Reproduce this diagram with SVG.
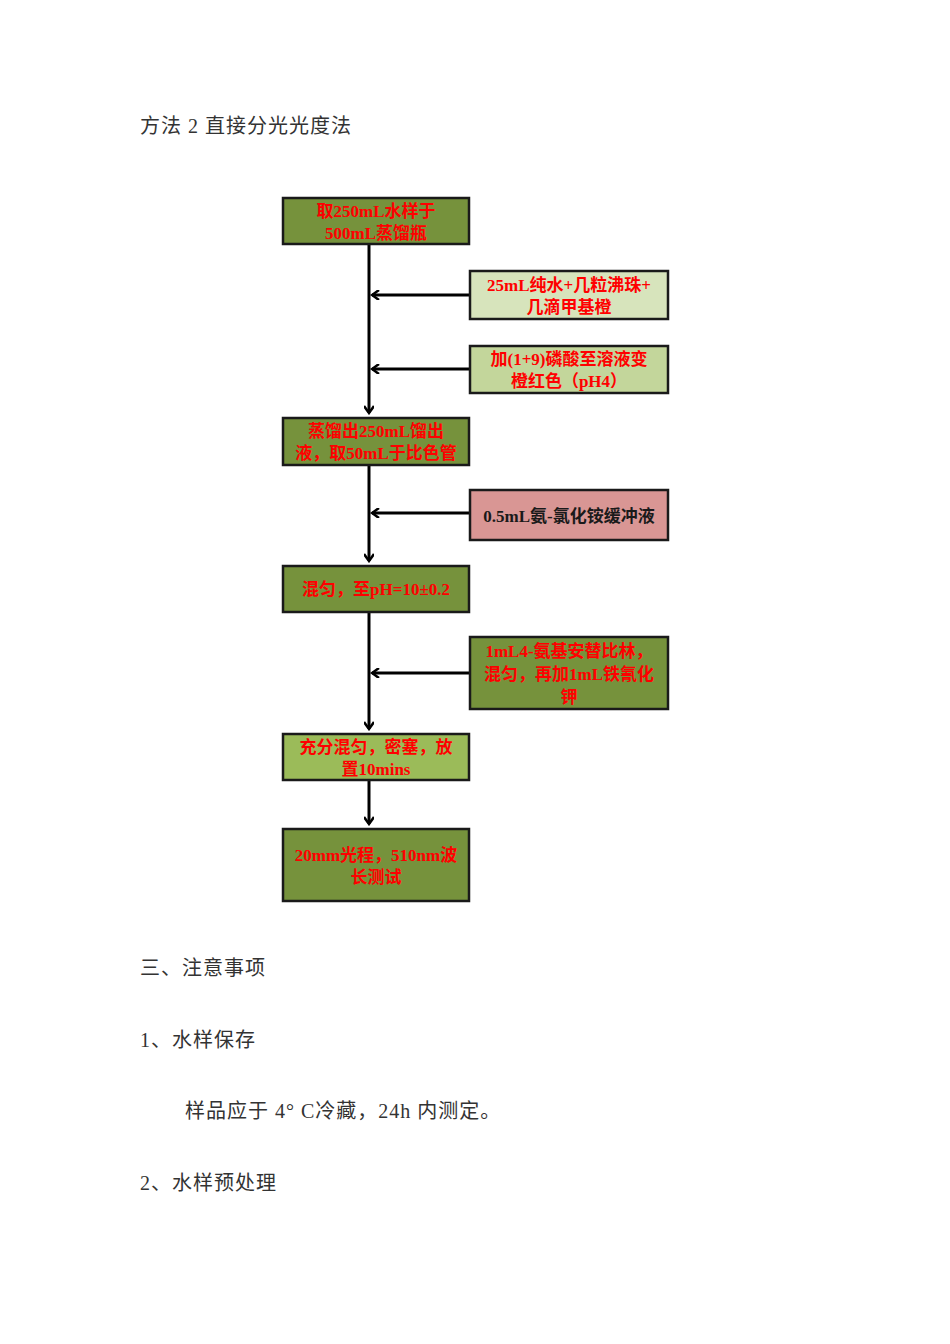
<svg xmlns="http://www.w3.org/2000/svg" width="950" height="1344" viewBox="0 0 950 1344">
<style>
.body{font-family:"Liberation Serif","Noto Sans CJK SC",serif;font-size:20px;fill:#333;letter-spacing:1px}
.b{stroke:#1a1a1a;stroke-width:2.5}
.dg{fill:#76923c}.lg{fill:#d7e4bc}.mg{fill:#c3d69b}.pk{fill:#d99694}.bg{fill:#9bbb59}
.t{font-family:"Liberation Serif","Noto Sans CJK SC",serif;font-size:17px;font-weight:bold;fill:#ff0000;text-anchor:middle}
.k{fill:#1a1a1a}
.c{stroke:#000;stroke-width:3;fill:none}
</style>
<defs><marker id="a" markerWidth="10" markerHeight="10" refX="8" refY="5" orient="auto" markerUnits="userSpaceOnUse"><path d="M1,0 L8,5 L1,10" fill="none" stroke="#000" stroke-width="2.5"/></marker></defs>
<rect width="950" height="1344" fill="#fff"/>
<text class="body" x="140" y="133">方法 2 直接分光光度法</text>
<g id="connectors">
<path class="c" d="M369,245 V413" marker-end="url(#a)"/>
<path class="c" d="M469,295 H372" marker-end="url(#a)"/>
<path class="c" d="M469,369 H372" marker-end="url(#a)"/>
<path class="c" d="M369,466 V561" marker-end="url(#a)"/>
<path class="c" d="M469,513 H372" marker-end="url(#a)"/>
<path class="c" d="M369,613 V729" marker-end="url(#a)"/>
<path class="c" d="M469,673 H372" marker-end="url(#a)"/>
<path class="c" d="M369,781 V824" marker-end="url(#a)"/>
</g>
<g id="n1"><rect class="b dg" x="283" y="198" width="186" height="46"/><text class="t" x="376" y="217">取250mL水样于</text><text class="t" x="376" y="239">500mL蒸馏瓶</text></g>
<g id="n2"><rect class="b lg" x="470" y="271" width="198" height="48"/><text class="t" x="569" y="291">25mL纯水+几粒沸珠+</text><text class="t" x="569" y="313">几滴甲基橙</text></g>
<g id="n3"><rect class="b mg" x="470" y="346" width="198" height="47"/><text class="t" x="569" y="365">加(1+9)磷酸至溶液变</text><text class="t" x="569" y="387">橙红色（pH4）</text></g>
<g id="n4"><rect class="b dg" x="283" y="418" width="186" height="47"/><text class="t" x="376" y="437">蒸馏出250mL馏出</text><text class="t" x="376" y="459">液，取50mL于比色管</text></g>
<g id="n5"><rect class="b pk" x="470" y="490" width="198" height="50"/><text class="t k" x="569" y="522">0.5mL氨-氯化铵缓冲液</text></g>
<g id="n6"><rect class="b dg" x="283" y="566" width="186" height="46"/><text class="t" x="376" y="595">混匀，至pH=10±0.2</text></g>
<g id="n7"><rect class="b dg" x="470" y="637" width="198" height="72"/><text class="t" x="569" y="657">1mL4-氨基安替比林，</text><text class="t" x="569" y="680">混匀，再加1mL铁氰化</text><text class="t" x="569" y="703">钾</text></g>
<g id="n8"><rect class="b bg" x="283" y="734" width="186" height="46"/><text class="t" x="376" y="753">充分混匀，密塞，放</text><text class="t" x="376" y="775">置10mins</text></g>
<g id="n9"><rect class="b dg" x="283" y="829" width="186" height="72"/><text class="t" x="376" y="861">20mm光程，510nm波</text><text class="t" x="376" y="883">长测试</text></g>
<text class="body" x="140" y="975">三、注意事项</text>
<text class="body" x="140" y="1047">1、水样保存</text>
<text class="body" x="185" y="1118">样品应于 4° C冷藏，24h 内测定。</text>
<text class="body" x="140" y="1190">2、水样预处理</text>
</svg>
